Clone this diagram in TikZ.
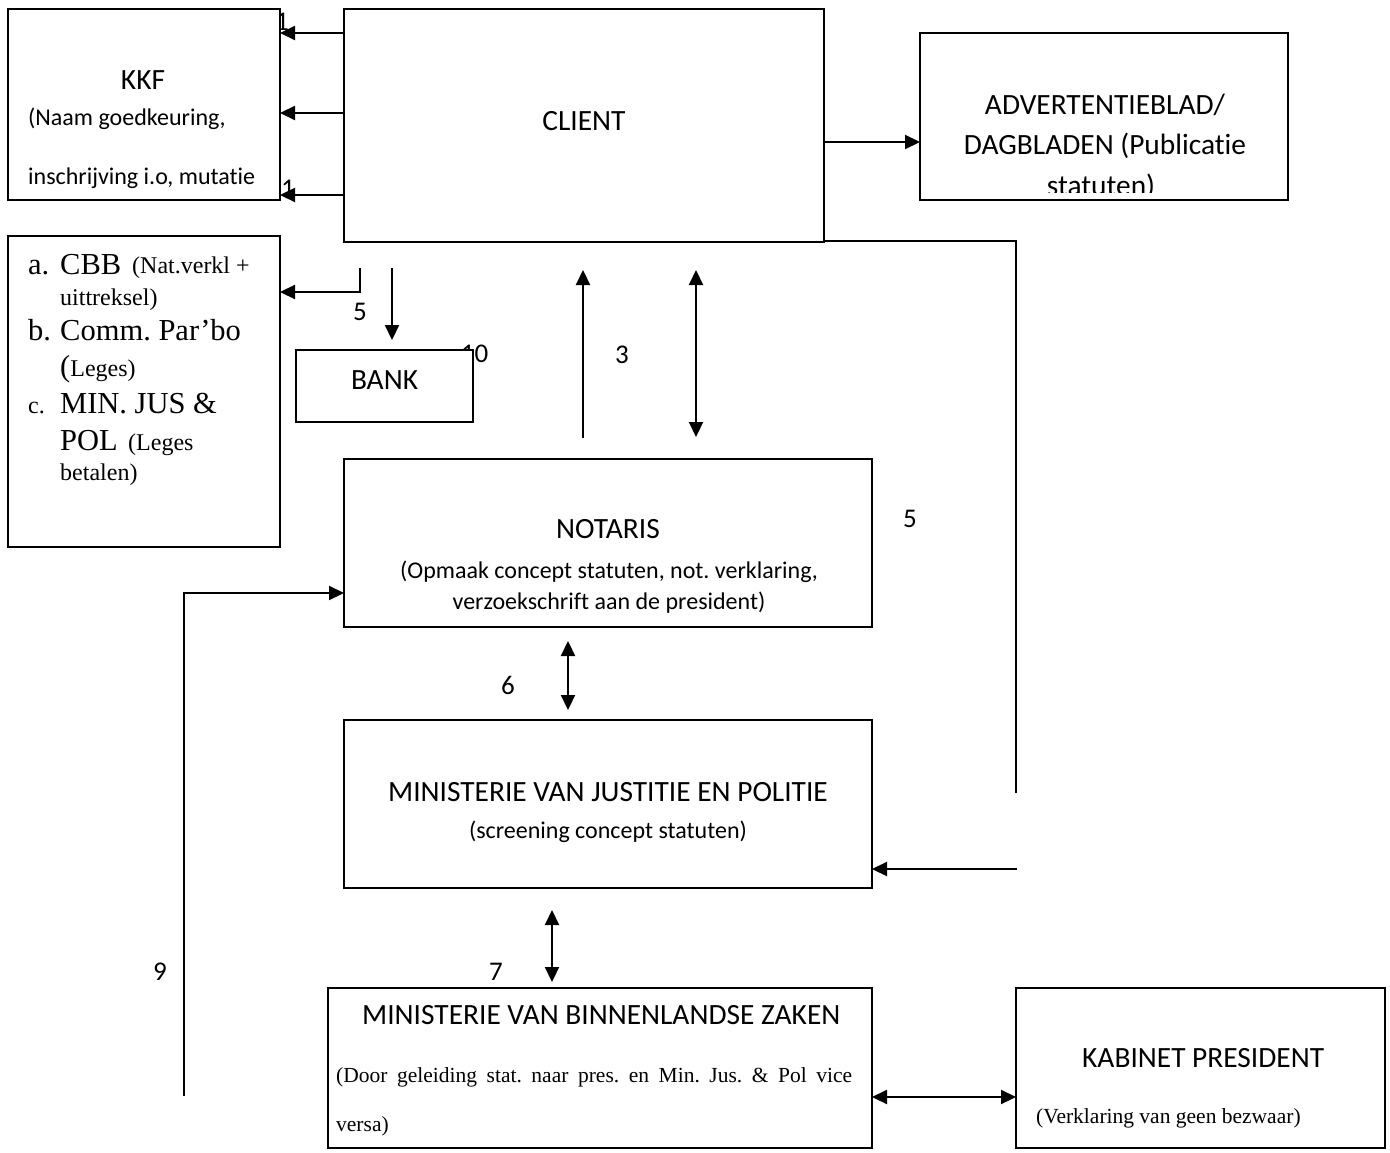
\documentclass[tikz,border=0pt]{standalone}
\usepackage{fontspec}
\setmainfont{Carlito}[Ligatures={NoCommon,NoRequired,NoContextual}]
\newfontfamily\tms{Liberation Serif}
\usetikzlibrary{arrows.meta}
\frenchspacing
\tikzset{
  box/.style={draw, line width=2pt, fill=white, rectangle, inner sep=0pt, outer sep=0pt},
  tip/.tip={Triangle[length=15pt,width=14pt]},
  conn/.style={line width=2.2pt, -tip},
  dconn/.style={line width=2.2pt, tip-tip},
  plain/.style={line width=2pt},
  lbl/.style={font=\fontsize{27}{32}\selectfont, inner sep=0pt},
  big/.style={font=\fontsize{29.4}{35}\selectfont, inner sep=0pt},
  sub/.style={font=\fontsize{24}{28}\selectfont, inner sep=0pt},
  tbig/.style={font=\tms\fontsize{30.5}{36}\selectfont, inner sep=0pt},
  tsub/.style={font=\tms\fontsize{24}{28}\selectfont, inner sep=0pt},
  tsm/.style={font=\tms\fontsize{21.5}{26}\selectfont, inner sep=0pt},
}
\begin{document}
\begin{tikzpicture}[x=1pt,y=-1pt]
\path[fill=white, use as bounding box] (0,0) rectangle (1390,1153);

% labels partly hidden behind boxes
\node[lbl] (one1) at (282,21.5) {1};
\node[lbl] (one2) at (288,188.5) {1};
\node[lbl] (ten) at (474.5,354) {10};

% boxes
\node[box, minimum width=272pt, minimum height=191pt] (kkf) at (144,104.5) {};
\node[box, minimum width=480pt, minimum height=233pt] (client) at (584,125.5) {};
\node[box, minimum width=368pt, minimum height=167pt] (adv) at (1104,116.5) {};
\node[box, minimum width=272pt, minimum height=311pt] (cbb) at (144,391.5) {};
\node[box, minimum width=177pt, minimum height=72pt] (bank) at (384,385.5) {};
\node[box, minimum width=528pt, minimum height=168pt] (notaris) at (608,543) {};
\node[box, minimum width=528pt, minimum height=168pt] (minjus) at (608,804) {};
\node[box, minimum width=544pt, minimum height=160pt] (minbz) at (600,1067.5) {};
\node[box, minimum width=369pt, minimum height=160pt] (kab) at (1200.5,1067.5) {};

% texts KKF
\node[big, anchor=base] (kkft) at (143,90) {KKF};
\node[sub, anchor=base west] (kkf1) at (28,126) {(Naam goedkeuring,};
\node[sub, anchor=base west] (kkf2) at (28,185) {inschrijving i.o, mutatie};

% CLIENT
\node[big, anchor=base] (clientt) at (584,131) {CLIENT};

% ADVERTENTIEBLAD (clipped)
\begin{scope}
\clip (921,34) rectangle (1287,192);
\node[big, anchor=base] (adv1) at (1105,115) {ADVERTENTIEBLAD/};
\node[big, anchor=base] (adv2) at (1105,155) {DAGBLADEN (Publicatie};
\node[big, anchor=base] (adv3) at (1101,195) {statuten)};
\end{scope}

% CBB list
\node[tbig, anchor=base west] (la) at (28,274) {a.};
\node[tbig, anchor=base west] (cbb1) at (60,274) {CBB};
\node[tsub, anchor=base west] (cbb1b) at (132,273) {(Nat.verkl +};
\node[tsub, anchor=base west] (cbb2) at (60,305) {uittreksel)};
\node[tbig, anchor=base west] (lb) at (28,340) {b.};
\node[tbig, anchor=base west] (cbb3) at (60,340) {Comm. Par’bo};
\node[anchor=base west, inner sep=0pt] (cbb4) at (60,376) {{\tms\fontsize{30.5}{36}\selectfont (}{\tms\fontsize{24}{28}\selectfont Leges)}};
\node[tsub, anchor=base west] (lc) at (28,413) {c.};
\node[tbig, anchor=base west] (cbb5) at (60,413) {MIN. JUS \&};
\node[tbig, anchor=base west] (cbb6) at (60,450) {POL};
\node[tsub, anchor=base west] (cbb6b) at (128,450) {(Leges};
\node[tsub, anchor=base west] (cbb7) at (60,480) {betalen)};

% BANK
\node[big, anchor=base] (bankt) at (384.5,389) {BANK};

% NOTARIS
\node[big, anchor=base] (not1) at (608,538) {NOTARIS};
\node[sub, anchor=base] (not2) at (609,578) {(Opmaak concept statuten, not. verklaring,};
\node[sub, anchor=base] (not3) at (609,609) {verzoekschrift aan de president)};

% MIN JUS
\node[big, anchor=base] (mj1) at (608,801) {MINISTERIE VAN JUSTITIE EN POLITIE};
\node[sub, anchor=base] (mj2) at (608,838) {(screening concept statuten)};

% MIN BZ
\node[big, anchor=base west] (bz1) at (362,1024) {MINISTERIE VAN BINNENLANDSE ZAKEN};
\node[tsm, anchor=base west] (bz2) at (336,1082) {\makebox[516pt][s]{(Door geleiding stat. naar pres. en Min. Jus. \& Pol vice}};
\node[tsm, anchor=base west] (bz3) at (336,1131) {versa)};

% KABINET
\node[big, anchor=base west] (kab1) at (1082,1067) {KABINET PRESIDENT};
\node[tsm, anchor=base west] (kab2) at (1036,1123) {(Verklaring van geen bezwaar)};

% number labels
\node[lbl] (n5a) at (360,312) {5};
\node[lbl] (n3) at (622,355) {3};
\node[lbl] (n5b) at (910,519) {5};
\node[lbl] (n6) at (508,685) {6};
\node[lbl] (n7) at (496,972) {7};
\node[lbl] (n9) at (160,972) {9};

% coordinates for free ends
\coordinate (cbbtop) at (360,268);
\coordinate (cbbbend) at (360,292);
\coordinate (banktop) at (392,268);
\coordinate (bankend) at (392,340);
\coordinate (a3bot) at (583,438);
\coordinate (a3top) at (583,270);
\coordinate (d3top) at (696,270);
\coordinate (d3bot) at (696,437);
\coordinate (rcorner) at (1016,241);
\coordinate (rend) at (1016,793);
\coordinate (rstart) at (1017,869);
\coordinate (d6top) at (568,641);
\coordinate (d6bot) at (568,710);
\coordinate (d7top) at (552,910);
\coordinate (d7bot) at (552,982);
\coordinate (n9bot) at (184,1096);
\coordinate (n9bend) at (184,593);

% connectors
\draw[conn] (client.west |- 0,33) -- (kkf.east |- 0,33);
\draw[conn] (client.west |- 0,113) -- (kkf.east |- 0,113);
\draw[conn] (client.west |- 0,195) -- (kkf.east |- 0,195);
\draw[conn] (client.east |- 0,142) -- (adv.west |- 0,142);
\draw[conn] (cbbtop) -- (cbbbend) -- (cbb.east |- cbbbend);
\draw[conn] (banktop) -- (bankend);
\draw[conn] (a3bot) -- (a3top);
\draw[dconn] (d3top) -- (d3bot);
\draw[plain, line cap=butt] (client.east |- rcorner) -- (rcorner) -- (rend);
\draw[conn] (rstart) -- (minjus.east |- rstart);
\draw[dconn] (d6top) -- (d6bot);
\draw[dconn] (d7top) -- (d7bot);
\draw[conn] (n9bot) -- (n9bend) -- (notaris.west |- n9bend);
\draw[dconn] (minbz.east |- 0,1097) -- (kab.west |- 0,1097);
\end{tikzpicture}
\end{document}
